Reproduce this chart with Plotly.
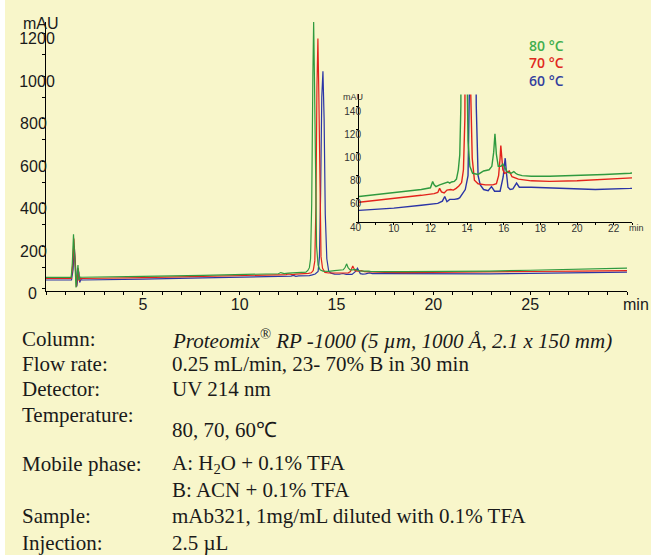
import plotly.graph_objects as go

# ---- chromatogram data (time in min, absorbance in mAU) ----
t_80 = [0.0, 1.30, 1.36, 1.42, 1.48, 1.55, 1.60, 1.65, 1.70, 1.76, 1.85, 3.0, 5.0, 8.1, 10.0,
        11.5, 12.0, 12.12, 12.2, 12.3, 12.5, 12.8, 12.95, 13.05, 13.15, 13.3, 13.42, 13.52,
        13.6, 13.66, 13.72, 13.78, 13.82, 13.86, 13.91, 13.97, 14.05, 14.15, 14.3, 14.6,
        14.9, 15.2, 15.35, 15.45, 15.52, 15.6, 15.7, 15.85, 15.95, 16.05, 16.2, 16.4, 16.55,
        16.65, 16.75, 17.0, 17.5, 18.5, 20.0, 21.5, 22.9, 25.0, 27.5, 30.0]
a_80 = [52, 52, 120, 255, 150, 5, 60, 110, 40, 54, 53, 54, 57, 62, 65,
        68, 69.5, 75, 72, 70.5, 72, 73.5, 74.5, 73.5, 74.5, 75, 77, 85,
        98, 140, 400, 1000, 1256, 1000, 500, 200, 110, 88, 82, 81,
        84, 85, 88, 100, 116, 98, 88, 88, 90, 87, 83, 82, 83.5,
        82, 81, 80, 79.5, 79.5, 80, 81, 82, 86, 90, 96]

t_70 = [0.0, 1.30, 1.38, 1.44, 1.50, 1.57, 1.62, 1.67, 1.72, 1.78, 1.87, 3.0, 5.0, 8.1, 10.0,
        11.5, 12.2, 12.4, 12.5, 12.6, 12.75, 12.9, 13.1, 13.25, 13.4, 13.55, 13.7, 13.8,
        13.88, 13.94, 13.99, 14.04, 14.09, 14.14, 14.2, 14.28, 14.4, 14.6, 15.0, 15.4, 15.6,
        15.72, 15.8, 15.84, 15.95, 16.05, 16.2, 16.3, 16.45, 16.8, 17.5, 18.5, 20.0, 21.5,
        22.9, 25.0, 27.5, 30.0]
a_70 = [47, 47, 110, 235, 130, 8, 55, 95, 35, 48, 47, 48, 51, 57, 60,
        63, 64.5, 65.5, 69, 66, 65, 67.5, 68, 67.5, 69, 71, 74, 85,
        130, 400, 950, 1176, 900, 400, 150, 95, 76, 73, 72, 72, 73,
        80, 95, 106, 85, 82, 83, 84, 79, 77, 75.5, 75, 75.5, 76.5,
        78, 80, 82, 84]

t_60 = [0.0, 1.32, 1.40, 1.46, 1.52, 1.59, 1.64, 1.69, 1.74, 1.80, 1.90, 3.0, 5.0, 8.1, 10.0,
        11.5, 12.4, 12.65, 12.78, 12.9, 13.05, 13.3, 13.5, 13.6, 13.75, 13.9, 14.05, 14.12,
        14.18, 14.24, 14.3, 14.36, 14.42, 14.5, 14.6, 14.72, 14.9, 15.15, 15.33, 15.5, 15.8,
        15.97, 16.08, 16.15, 16.23, 16.35, 16.5, 16.7, 16.85, 17.5, 19.2, 20.1, 21.0, 22.9,
        25.0, 27.5, 30.0]
a_60 = [40, 40, 90, 200, 110, 10, 45, 80, 28, 42, 40, 41, 44, 50, 52,
        54.5, 56, 58, 62, 57.5, 59.5, 59.5, 60, 61, 64, 68, 80, 150,
        450, 900, 1022, 800, 350, 140, 80, 72, 68, 67, 70.5, 66.5, 66.5,
        79, 95, 82, 70, 68, 68.5, 73.5, 70, 70, 69, 68, 68, 69,
        71, 74, 77]

temps = ["80 °C", "70 °C", "60 °C"]
line_colors = ["#2f9a3f", "#e3231c", "#2b35a6"]
text_colors = ["#3fae4e", "#e0281e", "#343f9e"]

# main y ticks; labels are padded so they sit centred under the "mAU" unit
y_ticks = [0, 200, 400, 600, 800, 1000, 1200]
y_ticktext = ["0\u2007\u2007", "200\u2002", "400\u2002", "600\u2002", "800\u2002", "1000", "1200"]

# ---- method conditions ----
cond_labels = ["Column:", "Flow rate:", "Detector:", "Temperature:", "Mobile phase:", "", "Sample:", "Injection:"]
cond_values = ["<i>Proteomix<sup>®</sup> RP -1000 (5 µm, 1000 Å, 2.1 x 150 mm)</i>",
               "0.25 mL/min, 23- 70% B in 30 min",
               "UV 214 nm",
               "80, 70, 60℃",
               "A: H<sub>2</sub>O + 0.1% TFA",
               "B: ACN + 0.1% TFA",
               "mAb321, 1mg/mL diluted with 0.1% TFA",
               "2.5 µL"]

W, H = 651, 555
L, R, T, B = 46, 640, 22, 291          # plot area in px


def px(x):
    return (x - L) / (R - L)


def py(y):
    return (B - y) / (B - T)


BG = "#f8f6ca"
SANS = "Liberation Sans, Arial, sans-serif"
SERIF = "Liberation Serif, Times New Roman, serif"

fig = go.Figure()
series = [(t_60, a_60, 2), (t_70, a_70, 1), (t_80, a_80, 0)]
for t, a, i in series:
    fig.add_trace(go.Scatter(x=t, y=a, mode="lines", name=temps[i], showlegend=False,
                             line=dict(color=line_colors[i], width=1.2), xaxis="x", yaxis="y"))
for t, a, i in series:
    fig.add_trace(go.Scatter(x=t, y=a, mode="lines", name=temps[i], showlegend=False,
                             line=dict(color=line_colors[i], width=1.4), xaxis="x2", yaxis="y2"))

axis_common = dict(showline=True, linecolor="black", linewidth=1, showgrid=False,
                   zeroline=False, ticks="outside", tickcolor="black")

# main axis: 0 mAU sits a little above the time axis line
y_lo = -(B - 288.5) / ((288.5 - 33.5) / 1200)
y_hi = 1200 + (33.5 - T) / ((288.5 - 33.5) / 1200)

fig.update_layout(
    width=W, height=H,
    margin=dict(l=L, r=W - R, t=T, b=H - B),
    paper_bgcolor=BG, plot_bgcolor="rgba(0,0,0,0)",
    xaxis=dict(**axis_common, domain=[0, px(627)], range=[0, 30],
               tickvals=[5, 10, 15, 20, 25], ticklen=3, tickwidth=1,
               minor=dict(dtick=1, ticklen=3, ticks="outside", tickcolor="black"),
               ticklabelstandoff=-4,
               tickfont=dict(family=SANS, size=16, color="#1a1a1a")),
    yaxis=dict(**axis_common, domain=[0, 1], range=[y_lo, y_hi],
               tickvals=y_ticks, ticktext=y_ticktext, ticklen=3,
               minor=dict(dtick=100, ticklen=3, ticks="outside", tickcolor="black"),
               ticklabelstandoff=-16, ticklabelshift=5,
               tickfont=dict(family=SANS, size=16, color="#1a1a1a")),
    xaxis2=dict(**axis_common, anchor="y2", domain=[px(359), px(632)], range=[8.1, 23],
                tickvals=[10, 12, 14, 16, 18, 20, 22], ticklen=2,
                minor=dict(dtick=1, ticklen=2, ticks="outside", tickcolor="black"),
                ticklabelstandoff=-5,
                tickfont=dict(family=SANS, size=10, color="#333")),
    yaxis2=dict(**axis_common, anchor="x2", domain=[py(222), py(94.4)], range=[40, 150],
                tickvals=[40, 60, 80, 100, 120, 140], ticklen=2,
                ticklabelstandoff=-7, ticklabelshift=5,
                tickfont=dict(family=SANS, size=10, color="#333")),
)

ann = []


def note(x, y, text, size, color="#1a1a1a", family=SANS, xanchor="center", weight=None):
    font = dict(family=family, size=size, color=color)
    if weight:
        font["weight"] = weight
    ann.append(dict(x=px(x), y=py(y), xref="paper", yref="paper", text=text, showarrow=False,
                    xanchor=xanchor, yanchor="middle", font=font))


note(41, 23, "mAU", 16)
note(636, 304, "min", 16)
note(353, 97, "mAU", 9, color="#333")
note(636, 228, "min", 9, color="#333")

for i, (label, yc) in enumerate(zip(temps, [45, 62, 80])):
    note(527, yc, label, 14, color=text_colors[i], family="Open Sans, sans-serif",
         xanchor="left", weight=600)

label_y = [339, 364, 389, 415, 464, 490, 516, 543]
value_y = [339, 364, 389, 430, 464, 490, 516, 543]
for lab, val, ly, vy in zip(cond_labels, cond_values, label_y, value_y):
    if lab:
        note(20, ly, lab, 21, family=SERIF, xanchor="left")
    note(170, vy, val, 21, family=SERIF, xanchor="left")

fig.update_layout(annotations=ann)

# white strip along the left edge of the page
fig.add_shape(type="rect", xref="paper", yref="paper", x0=px(-2), x1=px(5), y0=py(560), y1=py(-5),
              fillcolor="white", line=dict(width=0), layer="below")

fig.write_html("out.html")
